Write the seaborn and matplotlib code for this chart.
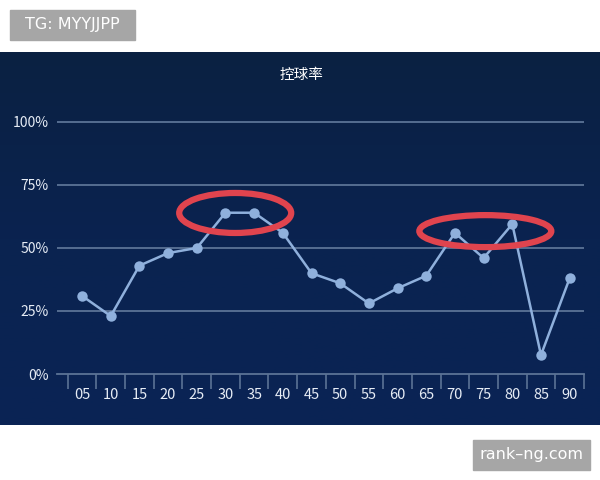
import numpy as np
import pandas as pd
import seaborn as sns
import matplotlib.pyplot as plt
from matplotlib.patches import Ellipse
from matplotlib.colors import LinearSegmentedColormap

# minute labels and possession rate (%)
minutes = ["05", "10", "15", "20", "25", "30", "35", "40", "45",
           "50", "55", "60", "65", "70", "75", "80", "85", "90"]
possession = [31, 23, 43, 48, 50, 64, 64, 56, 40,
              36, 28, 34, 39, 56, 46, 59.5, 7.5, 38]
y_ticks = [0, 25, 50, 75, 100]
y_labels = ["0%", "25%", "50%", "75%", "100%"]

df = pd.DataFrame({"idx": range(len(minutes)), "minute": minutes, "rate": possession})

sns.set_theme(style="white")
plt.rcParams["font.family"] = ["Noto Sans CJK SC", "DejaVu Sans"]

W, H = 600, 480
fig = plt.figure(figsize=(6, 4.8), dpi=100)
fig.patch.set_facecolor("white")

def box(left, top, right, bottom):
    return [left / W, 1 - bottom / H, (right - left) / W, (bottom - top) / H]

# dark panel with slight vertical gradient
bg = fig.add_axes(box(0, 52, 600, 425))
grad = np.linspace(0, 1, 256).reshape(-1, 1)
cmap = LinearSegmentedColormap.from_list("navy", ["#0b2142", "#0a2350", "#0a2455"])
bg.imshow(grad, aspect="auto", cmap=cmap, extent=[0, 1, 0, 1])
bg.set_axis_off()

# plot axes: 0% at y=374, 100% at y=122 (2.52 px per %)
top_px = 115
ax = fig.add_axes(box(57, top_px, 584, 374))
ax.patch.set_alpha(0)
n = len(minutes)
step = (584 - 67.7) / n
left_lim = -0.5 - (67.7 - 57) / step
ax.set_xlim(left_lim, n - 0.5)
ax.set_ylim(0, (374 - top_px) / 2.52)

grid_c = "#5b7396"
for v in y_ticks[1:]:
    ax.axhline(v, color=grid_c, lw=1.3, zorder=1)

line_c = "#8fb0dc"
sns.lineplot(data=df, x="idx", y="rate", ax=ax, color=line_c, lw=1.8,
             marker="o", markersize=7.5, markeredgewidth=0, zorder=3)

for s in ["top", "right", "left"]:
    ax.spines[s].set_visible(False)
ax.spines["bottom"].set_color(grid_c)
ax.spines["bottom"].set_linewidth(1.3)

ax.set_yticks(y_ticks)
ax.set_yticklabels(y_labels)
ax.set_xticks(range(n))
ax.set_xticklabels(minutes)
ax.tick_params(axis="y", length=0, pad=6, labelsize=10, labelcolor="#e6ecf5")
ax.tick_params(axis="x", length=0, pad=10, labelsize=10.5, labelcolor="#e6ecf5")
ax.set_xticks(np.arange(-0.5, n, 1), minor=True)
ax.tick_params(axis="x", which="minor", bottom=True, length=11, width=1.2,
               color=grid_c, direction="out")
ax.set_xlabel("")
ax.set_ylabel("")

# red highlight ellipses
red = "#e0444e"
ax.add_patch(Ellipse((5.34, 63.9), 112 / step, 40 / 2.52, fill=False,
                     edgecolor=red, lw=4.5, zorder=4))
ax.add_patch(Ellipse((14.06, 56.7), 132 / step, 32 / 2.52, fill=False,
                     edgecolor=red, lw=4.5, zorder=4))

fig.text(301 / W, 1 - 75 / H, "控球率", color="white", fontsize=10.5,
         ha="center", va="center")

# watermark boxes
fig.patches.append(plt.Rectangle((10 / W, 1 - 40 / H), 125 / W, 30 / H,
                                 transform=fig.transFigure, color="#a6a6a6"))
fig.text(72.5 / W, 1 - 25 / H, "TG: MYYJJPP", color="white", fontsize=11.5,
         ha="center", va="center", family="DejaVu Sans")
fig.patches.append(plt.Rectangle((473 / W, 1 - 470 / H), 117 / W, 30 / H,
                                 transform=fig.transFigure, color="#a6a6a6"))
fig.text(531.5 / W, 1 - 455 / H, "rank\u2013ng.com", color="white", fontsize=11.5,
         ha="center", va="center", family="DejaVu Sans")

fig.savefig("out.png", dpi=100, facecolor="white")
